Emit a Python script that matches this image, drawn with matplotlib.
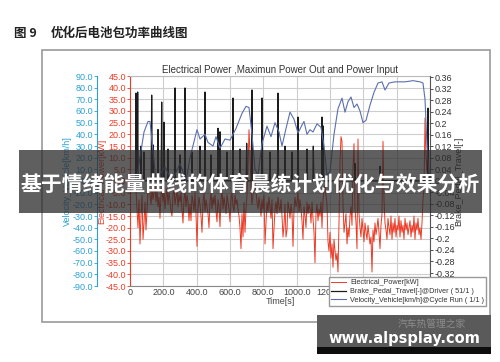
import numpy as np
import matplotlib
matplotlib.use('Agg')
import matplotlib.pyplot as plt
from matplotlib.patches import Rectangle

plt.rcParams['axes.unicode_minus'] = False
plt.rcParams['font.family'] = ['Liberation Sans Narrow', 'Liberation Sans', 'DejaVu Sans']

# vehicle speed (in blue axis units)
speed_time = [0, 36, 60, 84, 108, 120, 138, 156, 210, 252,
              300, 336, 360, 402, 420, 450, 468, 498, 516, 540,
              570, 600, 636, 672, 696, 714, 732, 750, 768, 792,
              822, 846, 870, 894, 912, 936, 960, 984, 1008, 1032,
              1044, 1062, 1080, 1098, 1122, 1146, 1164, 1182, 1200, 1224,
              1248, 1272, 1290, 1308, 1326, 1344, 1362, 1380, 1398, 1416,
              1440, 1464, 1488, 1512, 1530, 1554, 1590, 1650, 1698, 1740,
              1758, 1770, 1782, 1794, 1800]
speed_val = [0, 0, 20, 42, 51, 51, 25, 0, 12, 0,
             15, 0, 20, 44, 36, 40, 33, 30, 38, 28,
             36, 35, 45, 58, 64, 63, 40, 10, 5, 32,
             47, 38, 50, 42, 30, 45, 59, 53, 41, 48,
             51, 40, 44, 42, 49, 46, 30, 5, 8, 40,
             62, 71, 59, 68, 72, 63, 66, 60, 50, 52,
             65, 76, 84, 85, 78, 84, 85, 85, 86, 85,
             84, 70, 30, 5, 0]

# brake pedal spikes: time [s] and peak travel [-]
brake_time = [36, 46, 66, 84, 130, 140, 168, 190, 204, 228,
              270, 300, 330, 372, 420, 450, 486, 528, 540, 582,
              618, 660, 700, 732, 792, 840, 888, 930, 972, 1008,
              1062, 1100, 1152, 1160, 1350, 1500, 1788]
brake_val = [0.304, 0.308, 0.12, 0.10, 0.297, 0.124, 0.178, 0.273, 0.203, 0.11,
             0.322, 0.09, 0.322, 0.10, 0.12, 0.308, 0.09, 0.182, 0.17, 0.10,
             0.287, 0.11, 0.13, 0.315, 0.287, 0.10, 0.304, 0.12, 0.10, 0.221,
             0.11, 0.12, 0.221, 0.19, 0.06, 0.05, 0.252]

# electrical power [kW], one value every 6 s
power_step = 6
power_kw = [0, 0, 0, 0, 0, 0, -4, -12, -20, -8,
            -27, -15, -6, -25, -18, -9, -21, -12, -4, -2,
            -6, -10, -3, -8, -5, -2, -9, -4, -11, -7,
            -16, -6, -3, -9, -4, -12, -7, -3, -10, -5,
            -8, -13, -15, -6, -3, -10, -7, -4, -11, -6,
            -9, -5, -12, -18, -8, -4, -11, -6, -9, -17,
            -10, -17, -6, -9, -13, -5, -14, -28, -12, -7,
            -10, -15, -22, -9, -5, -13, -8, -11, -14, -20,
            -9, -5, -12, -7, -10, -6, -13, -17.5, -8, -11,
            -19.6, -8, -4, -12, -7, -10, -14, -6, -9, -12,
            -17.5, -8, -5, -11, -13, -6, -10, -8, -12, -15,
            -20, -29, -14, -24, -9, -22, -12, -6, 5, 22,
            12, -3, -10, -6, 0, 2, -4, -9, -12, -7,
            -10, -15, -8, -12, -6, -27, -18, -9, -13, -7,
            -11, -16, -8, -29, -20, -12, -9, -14, -7, -11,
            -13, -8, -15, -24, -19, -10, -24, -21, -9, -12,
            -16, -10, -14, -28, -12, -7, -11, -9, -5, -13,
            -8, -12, -17, -25, -11, -15, -20, -9, -14, -10,
            -12, -18, -9, -16, -22, -35, -14, -10, -17, -12,
            -15, -9, -20, -8, -4, -2, -6, -10, -26, -30,
            -22, -33, -27, -37, -25, -30, -34, -31, -39, -18,
            8, 19, 17, -10, -22, -18, -14, -27, -20, -24,
            -15, -11, -19, 6, 16, -12, -18, -29, 18, -14,
            -20, -24, -16, -21, -26, -18, -22, -25, -19, -23,
            -27, -24, -39, -21, -26, -18, -23, -20, -16, -22,
            -29, -19, -14, 17, -8, -18, -21, -25, -16, -20,
            -23, -15, -25, -18, -22, -16, -24, -19, -21, -15,
            -24, -17, -22, -19, -25, -16, -21, -18, -23, -20,
            -17, -24, -19, -22, -15, -25, -18, -21, -16, -23,
            -20, -25, -18, -8, -3, 27, 10, 4, 25, 0,
            0]
power_time = np.arange(len(power_kw)) * power_step

red_ticks = list(range(-45, 50, 5))
blue_ticks = list(range(-90, 100, 10))
brake_ticks = [0.36, 0.32, 0.28, 0.24, 0.2, 0.16, 0.12, 0.08, 0.04, 0,
               -0.04, -0.08, -0.12, -0.16, -0.2, -0.24, -0.28, -0.32]
time_ticks = list(range(0, 2000, 200))

legend_labels = ['Electrical_Power[kW]',
                 'Brake_Pedal_Travel[-]@Driver ( 51/1 )',
                 'Velocity_Vehicle[km/h]@Cycle Run ( 1/1 )']

RED = '#ec3a24'
BLUE = '#5a6fae'
BLK = '#1c1c1c'
CYAN = '#2aa0d8'

# build brake trace from spikes
bt, bv = [0], [0]
for t, h in zip(brake_time, brake_val):
    bt += [t - 3, t, t + 3]
    bv += [0, h, 0]
bt.append(1800)
bv.append(0)

fig = plt.figure(figsize=(5, 3.62), dpi=100)
W, H = 500.0, 362.0

ax = fig.add_axes([130 / W, 1 - 286 / H, 300 / W, 210 / H])
l_red, = ax.plot(power_time, power_kw, color=RED, lw=0.7)
ax.set_xlim(0, 1800)
ax.set_ylim(-45, 45)
ax.set_xticks(time_ticks)
ax.set_xticklabels(['0'] + ['%.1f' % t for t in time_ticks[1:]])
ax.set_yticks(red_ticks)
ax.set_yticklabels(['%.1f' % v for v in red_ticks])
ax.grid(True, color='#cdcdcd', lw=0.8)
ax.set_axisbelow(True)
ax.tick_params(axis='y', colors=RED, labelsize=6.5, length=2, width=0.6, pad=1)
ax.tick_params(axis='x', colors='#444444', labelsize=6.5, length=0, pad=1.5)
ax.spines['left'].set_color(RED)
ax.spines['bottom'].set_color('#888888')
ax.spines['top'].set_color('#bbbbbb')
ax.spines['right'].set_visible(False)
ax.set_ylabel('Electrical_Power[kW]', color=RED, fontsize=6.5)
ax.yaxis.set_label_coords(-0.078, 0.5)
ax.set_xlabel('Time[s]', color='#444444', fontsize=6.5, labelpad=0)

ax_r = ax.twinx()
l_blk, = ax_r.plot(bt, bv, color=BLK, lw=0.9)
ax_r.set_ylim(-0.365, 0.3635)
ax_r.set_yticks(brake_ticks)
ax_r.set_yticklabels(['%g' % v for v in brake_ticks])
ax_r.tick_params(axis='y', colors='#333333', labelsize=6.5, length=2, width=0.6, pad=1)
for s in ['left', 'top', 'bottom']:
    ax_r.spines[s].set_visible(False)
ax_r.spines['right'].set_color('#555555')
ax_r.set_ylabel('Brake_Pedal_Travel[-]', color='#333333', fontsize=6.5)
ax_r.yaxis.set_label_coords(1.08, 0.5)

ax_b = ax.twinx()
l_blue, = ax_b.plot(speed_time, speed_val, color=BLUE, lw=0.8)
ax_b.set_ylim(-90, 90)
ax_b.spines['left'].set_position(('axes', -0.11))
ax_b.spines['left'].set_visible(True)
ax_b.spines['left'].set_color(CYAN)
for s in ['right', 'top', 'bottom']:
    ax_b.spines[s].set_visible(False)
ax_b.yaxis.set_label_position('left')
ax_b.yaxis.set_ticks_position('left')
ax_b.set_yticks(blue_ticks)
ax_b.set_yticklabels(['%.1f' % v for v in blue_ticks])
ax_b.tick_params(axis='y', colors=CYAN, labelsize=6.5, length=2, width=0.6, pad=1)
ax_b.set_ylabel('Velocity_Vehicle[km/h]', color=CYAN, fontsize=6.5)
ax_b.yaxis.set_label_coords(-0.195, 0.5)

leg = ax_b.legend([l_red, l_blk, l_blue], legend_labels, loc='upper left',
                  bbox_to_anchor=(329 / W, 1 - 277 / H), bbox_transform=fig.transFigure,
                  borderaxespad=0, fontsize=5.2, fancybox=False, framealpha=1,
                  edgecolor='#999999', handlelength=2.0, handletextpad=0.6,
                  labelspacing=0.25, borderpad=0.3)
for txt in leg.get_texts():
    txt.set_color('#333333')

fig.text(280 / W, 1 - 70 / H, 'Electrical Power ,Maximun Power Out and Power Input',
         ha='center', va='center', fontsize=7, color='#333333', family=['Liberation Sans'])

# outer frame of the screenshot
fig.add_artist(Rectangle((42 / W, 1 - 322 / H), 448 / W, 272 / H, transform=fig.transFigure,
                         fill=False, edgecolor='#9a9a9a', lw=1.2, zorder=1))

# caption
fig.text(14 / W, 1 - 33 / H, '图 9', ha='left', va='center', fontsize=9, fontweight='bold',
         color='#222222', family=['Noto Sans CJK SC', 'DejaVu Sans'])
fig.text(51 / W, 1 - 33 / H, '优化后电池包功率曲线图', ha='left', va='center', fontsize=9,
         fontweight='bold', color='#222222', family=['Noto Sans CJK SC', 'DejaVu Sans'])

# banner
fig.add_artist(Rectangle((19 / W, 1 - 213 / H), 463 / W, 63 / H, transform=fig.transFigure,
                         color='#2a2a2a', alpha=0.75, lw=0, zorder=20))
fig.text(250 / W, 1 - 184 / H, '基于情绪能量曲线的体育晨练计划优化与效果分析', ha='center',
         va='center', fontsize=15, fontweight='bold', color='white',
         family=['Noto Sans CJK SC'], zorder=21)

# watermark
fig.add_artist(Rectangle((317 / W, 1 - 347 / H), 174 / W, 32 / H, transform=fig.transFigure,
                         color='#5a5a5a', lw=0, zorder=20))
fig.add_artist(Rectangle((317 / W, 1 - 354 / H), 174 / W, 7 / H, transform=fig.transFigure,
                         color='#0d0d0d', lw=0, zorder=20))
fig.text(432 / W, 1 - 324 / H, '汽车热管理之家', ha='center', va='center', fontsize=7,
         style='italic', color='#8c8c8c', family=['Noto Sans CJK SC'], zorder=21)
fig.text(404 / W, 1 - 338 / H, 'www.alpsplay.com', ha='center', va='center', fontsize=10.5,
         fontweight='bold', color='white', family=['DejaVu Sans'], zorder=21)

fig.savefig('out.png', dpi=100)
